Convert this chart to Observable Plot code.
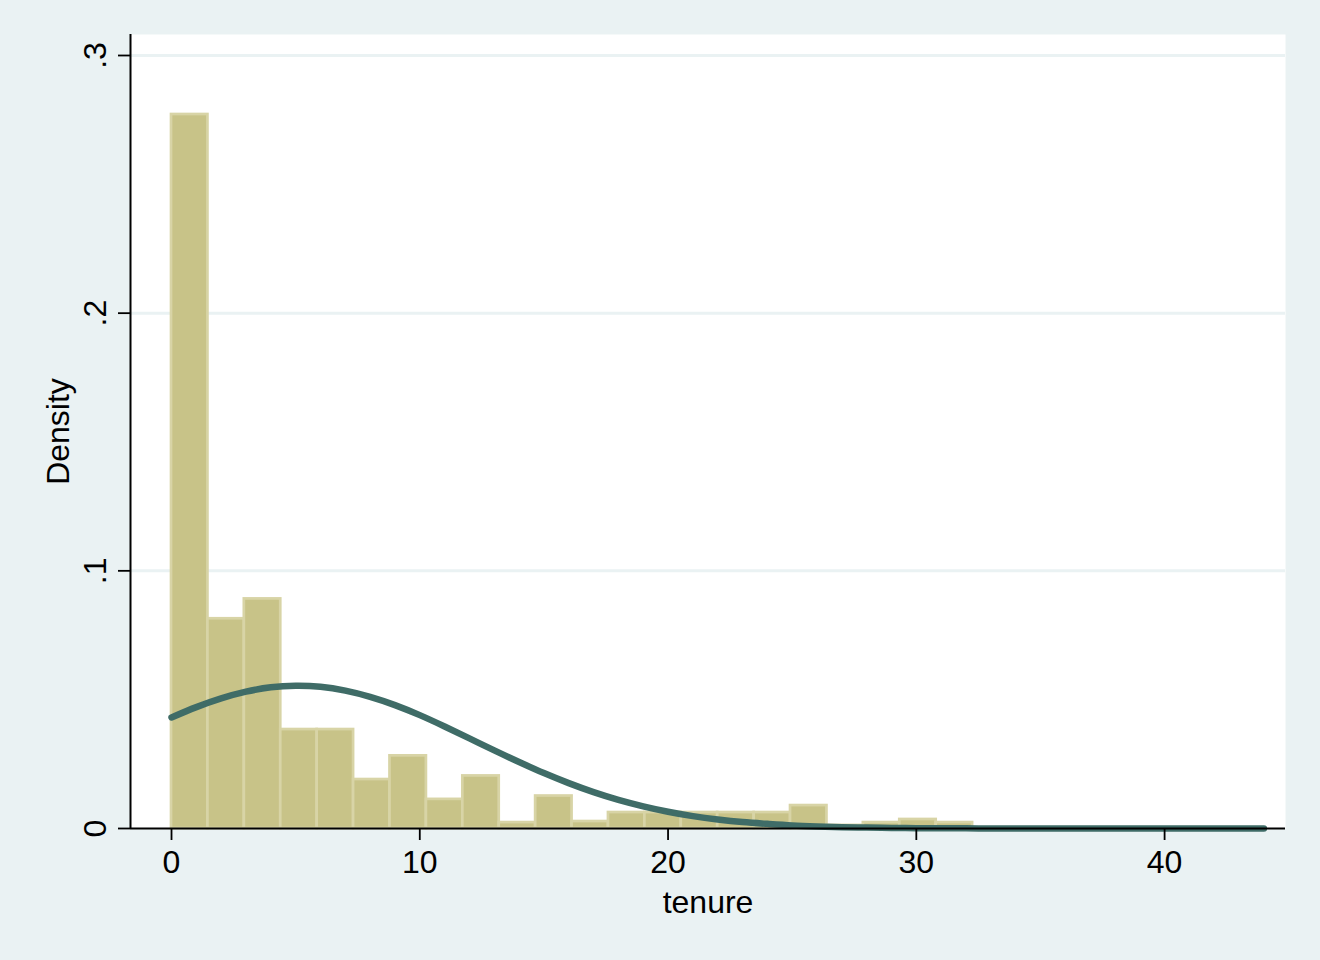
<!DOCTYPE html>
<html>
<head>
<meta charset="utf-8">
<script src="https://cdn.jsdelivr.net/npm/d3@7"></script>
<script src="https://cdn.jsdelivr.net/npm/@observablehq/plot@0.6"></script>
<style>
  html, body { margin: 0; padding: 0; background: #eaf2f3; }
  #chart { width: 1320px; height: 960px; }
</style>
</head>
<body>
<div id="chart"></div>
<script>
// Histogram of tenure (30 bins of equal width from 0 to 44), density scale
const binCount = 30;
const tenureMin = 0;
const tenureMax = 44;
const binDensity = [
  0.2771, 0.0814, 0.0891, 0.0384, 0.0384, 0.0190, 0.0282, 0.0113, 0.0204, 0.0023,
  0.0126, 0.0027, 0.0062, 0.0062, 0.0062, 0.0062, 0.0062, 0.0089, 0.0012, 0.0023,
  0.0035, 0.0023, 0, 0, 0, 0, 0, 0, 0, 0
];

// Normal density overlay at each whole year of tenure
const curveTenure = [
  0, 1, 2, 3, 4, 5, 6, 7, 8, 9, 10, 11, 12, 13, 14, 15, 16, 17, 18, 19, 20, 21, 22,
  23, 24, 25, 26, 27, 28, 29, 30, 31, 32, 33, 34, 35, 36, 37, 38, 39, 40, 41, 42, 43, 44
];
const curveDensity = [
  0.0431, 0.0471, 0.0505, 0.0531, 0.0548, 0.0554, 0.0550, 0.0535, 0.0511, 0.0479,
  0.0440, 0.0396, 0.0350, 0.0303, 0.0258, 0.0215, 0.0176, 0.0141, 0.0111, 0.0086,
  0.0065, 0.0048, 0.0035, 0.0025, 0.0018, 0.0012, 0.0008, 0.0005, 0.00035, 0.00022,
  0.00014, 0.00008, 0.00005, 0.00003, 0.00002, 0.00001, 0, 0, 0, 0, 0, 0, 0, 0, 0
];

const xTicks = [0, 10, 20, 30, 40];
const yTicks = [0, 0.1, 0.2, 0.3];
const yTickLabels = ["0", ".1", ".2", ".3"];
const xLabel = "tenure";
const yLabel = "Density";

// Build tables for the library
const binWidth = (tenureMax - tenureMin) / binCount;
const bins = binDensity.map((d, i) => ({
  x1: tenureMin + i * binWidth,
  x2: tenureMin + (i + 1) * binWidth,
  y: d
})).filter(b => b.y > 0);
const curve = curveTenure.map((t, i) => ({ x: t, y: curveDensity[i] }));

const xDomain = [-1.652, 44.87];
const yDomain = [0, 0.30815];

const bg = "#eaf2f3";
const font = "'Liberation Sans', Helvetica, Arial, sans-serif";
const fs = 32;

const chart = Plot.plot({
  width: 1320,
  height: 960,
  marginLeft: 130,
  marginRight: 35,
  marginTop: 34,
  marginBottom: 132,
  style: { background: bg, fontFamily: font, fontSize: fs + "px", color: "black", overflow: "visible" },
  x: { domain: xDomain, axis: null },
  y: { domain: yDomain, axis: null },
  marks: [
    Plot.frame({ fill: "white", stroke: null }),
    Plot.gridY({ ticks: yTicks.filter(d => d > 0), stroke: bg, strokeOpacity: 1, strokeWidth: 3 }),
    Plot.rectY(bins, {
      x1: "x1", x2: "x2", y: "y",
      fill: "#c8c388",
      stroke: "#d8d4a6",
      strokeWidth: 2.7,
      inset: 0
    }),
    Plot.line(curve, {
      x: "x", y: "y",
      stroke: "#3f6c67",
      strokeWidth: 6.5,
      curve: "natural"
    }),
    Plot.ruleY([yDomain[0]], { stroke: "black", strokeWidth: 2 }),
    Plot.ruleX([xDomain[0]], { stroke: "black", strokeWidth: 2 }),
    Plot.axisX({
      ticks: xTicks,
      tickSize: 12,
      tickPadding: 10,
      stroke: "black",
      strokeWidth: 1.8,
      fontSize: fs,
      fill: "black",
      label: null
    }),
    Plot.axisY({
      ticks: yTicks,
      tickSize: 12,
      tickPadding: 13,
      tickRotate: -90,
      tickFormat: d => yTickLabels[yTicks.indexOf(d)],
      stroke: "black",
      strokeWidth: 1.8,
      fontSize: fs,
      fill: "black",
      label: null
    }),
    Plot.text([xLabel], {
      frameAnchor: "bottom",
      dy: 84,
      lineAnchor: "bottom",
      textAnchor: "middle",
      text: d => d,
      fontSize: fs,
      fill: "black"
    }),
    Plot.text([yLabel], {
      frameAnchor: "left",
      dx: -62,
      rotate: -90,
      lineAnchor: "bottom",
      textAnchor: "middle",
      text: d => d,
      fontSize: fs,
      fill: "black"
    })
  ]
});

document.getElementById("chart").appendChild(chart);
</script>
</body>
</html>
